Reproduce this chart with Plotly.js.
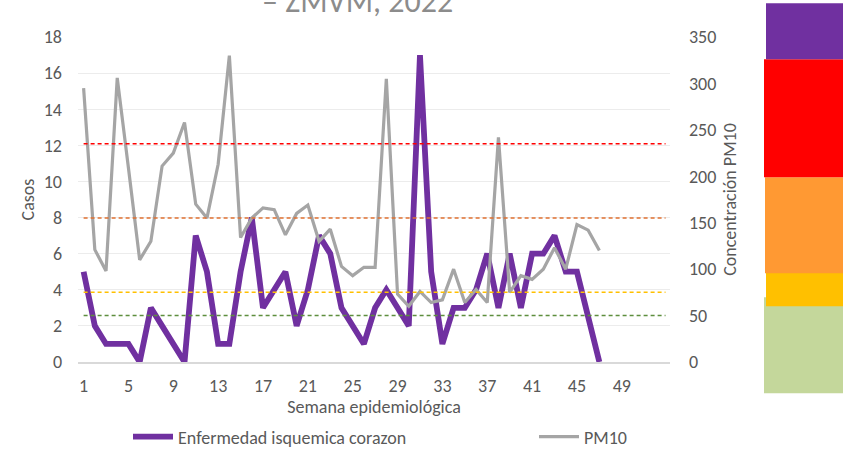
<!DOCTYPE html>
<html>
<head>
<meta charset="utf-8">
<script src="https://cdn.plot.ly/plotly-3.0.1.min.js"></script>
<style>
  html, body { margin: 0; padding: 0; background: #ffffff; }
  #chart { width: 843px; height: 449px; }
</style>
</head>
<body>
<div id="chart"></div>
<script>
// ---- Data ----
const semanas = [1,2,3,4,5,6,7,8,9,10,11,12,13,14,15,16,17,18,19,20,21,22,23,24,25,26,27,28,29,30,31,32,33,34,35,36,37,38,39,40,41,42,43,44,45,46,47];
const casos = [5,2,1,1,1,0,3,2,1,0, 7,5,1,1,5,8,3,4,5,2, 4,7,6,3,2,1,3,4,3,2, 17,5,1,3,3,4,6,3,6,3, 6,6,7,5,5,2.5,0];
const pm10 = [295,121,98,306,209,110,130,211,225,258, 170,155,213,330,134,155,166,164,137,160, 169,130,143,103,93,102,102,305,73,60, 76,64,67,100,64,78,64,242,75,93, 89,100,123,100,148,142,120];
const xTicks = [1,5,9,13,17,21,25,29,33,37,41,45,49];
const umbrales = [235, 155, 75, 50];
const umbralColores = ['#FF0000', '#E07030', '#FFC000', '#5E8E3E'];
const serieNombres = ['Enfermedad isquemica corazon', 'PM10'];

const FONT = 'Carlito, Open Sans, sans-serif';
const TXT = '#595959';
const FS = 18;

const traces = [
  {
    x: semanas, y: casos, name: serieNombres[0], type: 'scatter', mode: 'lines',
    line: {color: '#7030A0', width: 5.8}, yaxis: 'y', legend: 'legend'
  },
  {
    x: semanas, y: pm10, name: serieNombres[1], type: 'scatter', mode: 'lines',
    line: {color: '#A5A5A5', width: 3.2}, yaxis: 'y2', legend: 'legend2'
  }
];

// threshold dashed lines on the PM10 axis
const shapes = umbrales.map((u, i) => ({
  type: 'line', xref: 'x', yref: 'y2', x0: 1, x1: 52.9, y0: u, y1: u,
  line: {color: umbralColores[i], width: 1.5, dash: '4px,3px'}
}));

// coloured scale block on the right (paper coords: x 0->78px, 1->670px; y 0->361.7px, 1->36.7px)
const px = p => (p - 78) / 592;
const py = p => (361.7 - p) / 325;
const bloques = [
  {x0: 764, x1: 843, y0: 393, y1: 297, c: '#C4D79B'},
  {x0: 766, x1: 843, y0: 306, y1: 272, c: '#FFC000'},
  {x0: 765, x1: 843, y0: 273, y1: 177, c: '#FF9933'},
  {x0: 764, x1: 843, y0: 177, y1: 59, c: '#FF0000'},
  {x0: 766, x1: 843, y0: 59, y1: 3, c: '#7030A0'}
];
bloques.forEach(b => shapes.push({
  type: 'rect', xref: 'paper', yref: 'paper', layer: 'below',
  x0: px(b.x0), x1: px(b.x1), y0: py(b.y0), y1: py(b.y1),
  fillcolor: b.c, line: {width: 0}
}));

const legBase = {
  orientation: 'h', xref: 'container', yref: 'container', xanchor: 'left', yanchor: 'middle',
  y: (449 - 437) / 449, itemwidth: 40,
  font: {family: FONT, size: FS, color: TXT}, bgcolor: 'rgba(0,0,0,0)'
};

const layout = {
  width: 843, height: 449,
  margin: {l: 78, r: 173, t: 36.7, b: 87.3, pad: 0, autoexpand: false},
  paper_bgcolor: '#ffffff', plot_bgcolor: '#ffffff',
  font: {family: FONT, size: FS, color: TXT},
  showlegend: true,
  legend: Object.assign({}, legBase, {x: 128 / 843}),
  legend2: Object.assign({}, legBase, {x: 534 / 843}),
  xaxis: {
    range: [0.5, 53.3], tickmode: 'array', tickvals: xTicks, ticktext: xTicks.map(String),
    showgrid: false, zeroline: false, showline: true, linecolor: '#D9D9D9', linewidth: 1.5,
    ticks: '', ticklabelstandoff: 7, tickfont: {family: FONT, size: FS, color: TXT},
    title: {text: 'Semana epidemiológica', font: {family: FONT, size: FS, color: TXT}, standoff: 12}
  },
  yaxis: {
    range: [0, 18], dtick: 2, tick0: 0, showgrid: true, gridcolor: '#ECECEC', gridwidth: 1,
    zeroline: false, showline: false, ticks: '', ticklabelstandoff: 15,
    tickfont: {family: FONT, size: FS, color: TXT},
    title: {text: 'Casos', font: {family: FONT, size: FS, color: TXT}, standoff: 4}
  },
  yaxis2: {
    overlaying: 'y', side: 'right', range: [0, 350], dtick: 50, tick0: 0,
    showgrid: false, zeroline: false, showline: false, ticks: '', ticklabelstandoff: 18,
    tickfont: {family: FONT, size: FS, color: TXT},
    title: {text: 'Concentración PM10', font: {family: FONT, size: FS, color: TXT}, standoff: 8}
  },
  shapes: shapes,
  annotations: [{
    text: '– ZMVM, 2022', xref: 'paper', yref: 'paper', x: px(357), y: py(1),
    xanchor: 'center', yanchor: 'middle', showarrow: false,
    font: {family: FONT, size: 32, color: '#8C8C8C'}
  }]
};

Plotly.newPlot('chart', traces, layout, {displayModeBar: false, staticPlot: true});
</script>
</body>
</html>
